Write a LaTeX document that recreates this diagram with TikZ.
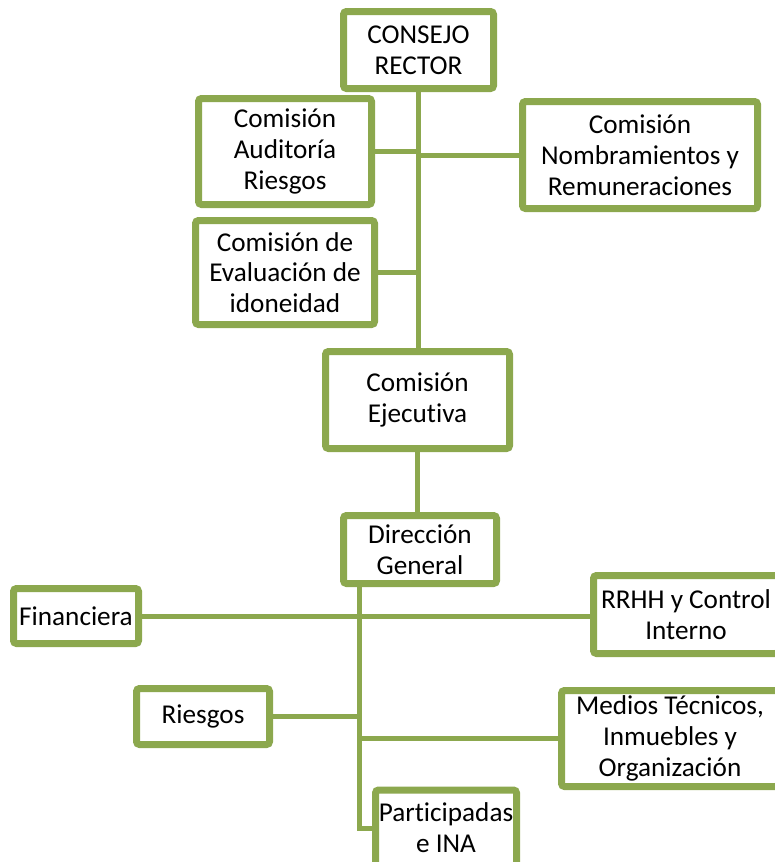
\documentclass[tikz,border=0pt]{standalone}
\usepackage{fontspec}
\setmainfont[Ligatures={NoCommon}]{Carlito}
\usetikzlibrary{shadows}
\definecolor{verde}{RGB}{140,168,78}

\begin{document}
\begin{tikzpicture}[x=0.5pt,y=-0.5pt,
    caja/.style={draw=verde, line width=3.5pt, fill=white, rounded corners=1.5pt,
        align=center, inner sep=0pt, font=\fontsize{13.6}{15.4}\selectfont,
        drop shadow={shadow xshift=1.3pt, shadow yshift=-1.3pt, fill=black!40, opacity=0.6}},
    linea/.style={verde, line width=2.5pt}]
    \useasboundingbox (0,0) rectangle (775,862);
    \clip (0,0) rectangle (775,862);

% consejo y comisiones
\node[caja, minimum width=75pt, minimum height=38.5pt] (consejo) at (418.5,50) {CONSEJO\\RECTOR};
\node[caja, minimum width=86.5pt, minimum height=53pt] (auditoria) at (285,151.5) {Comisión\\Auditoría\\Riesgos};
\node[caja, minimum width=117.5pt, minimum height=53.5pt] (nombramientos) at (640,155) {Comisión\\Nombramientos y\\Remuneraciones};
\node[caja, minimum width=89.5pt, minimum height=52pt] (idoneidad) at (285,272.5) {Comisión de\\Evaluación de\\idoneidad};
\node[caja, minimum width=92pt, minimum height=48.5pt] (ejecutiva) at (417.5,400) {Comisión\\Ejecutiva};

% direccion y areas
\node[caja, minimum width=76.5pt, minimum height=34pt] (direccion) at (420,549.5) {Dirección\\General};
\node[caja, minimum width=62.5pt, minimum height=27.5pt] (financiera) at (76,616) {Financiera};
\node[caja, minimum width=92.5pt, minimum height=39pt] (rrhh) at (686,614.5) {RRHH y Control\\Interno};
\node[caja, minimum width=66.5pt, minimum height=28pt] (riesgos) at (203,716.5) {Riesgos};
\node[caja, minimum width=108.5pt, minimum height=48pt] (medios) at (670,738.5) {Medios Técnicos,\\Inmuebles y\\Organización};
\node[caja, minimum width=70.5pt, minimum height=38pt] (participadas) at (446,828) {Participadas\\e INA};

\coordinate (tronco) at ([xshift=-30.5pt]direccion.south);

\draw[linea] (consejo.south) -- (consejo.south |- ejecutiva.north);
\draw[linea] (auditoria.east) -- (auditoria.east -| consejo.south);
\draw[linea] (nombramientos.west) -- (nombramientos.west -| consejo.south);
\draw[linea] (idoneidad.east) -- (idoneidad.east -| consejo.south);
\draw[linea] (ejecutiva.south) -- (ejecutiva.south |- direccion.north);

\draw[linea] (tronco) -- (tronco |- participadas.west) -- (participadas.west);
\draw[linea] (financiera.east) -- (financiera.east -| rrhh.west);
\draw[linea] (riesgos.east) -- (riesgos.east -| tronco);
\draw[linea] (medios.west) -- (medios.west -| tronco);

\end{tikzpicture}
\end{document}
